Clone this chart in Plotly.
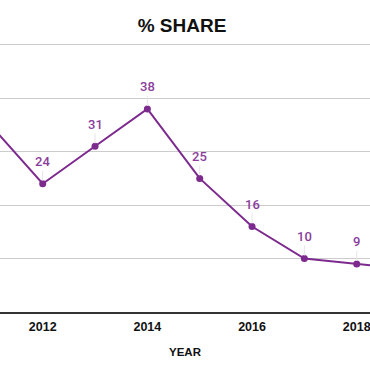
import plotly.graph_objects as go

years = [2011, 2012, 2013, 2014, 2015, 2016, 2017, 2018, 2019]
share = [35, 24, 31, 38, 25, 16, 10, 9, 8]
tick_years = [2012, 2014, 2016, 2018]
tick_labels = ["2012", "2014", "2016", "2018"]

LINE = "#7D2A8E"
TEXT = "#8A3D9C"

x_range = [2011.184, 2018.254]

fig = go.Figure()
fig.add_trace(go.Scatter(
    x=years, y=share, mode="lines+markers",
    line=dict(color=LINE, width=2),
    marker=dict(color=LINE, size=7),
    hoverinfo="skip",
))

for xv, yv in zip(years, share):
    if x_range[0] <= xv <= x_range[1]:
        fig.add_annotation(
            x=xv, y=yv, text=str(yv), showarrow=True,
            arrowhead=0, arrowwidth=1, arrowcolor="#e6e6e6",
            ax=0, ay=-22, standoff=3,
            font=dict(family="Roboto", size=13, color=TEXT, weight=500),
        )

fig.update_layout(
    width=370, height=371,
    margin=dict(l=0, r=0, t=40, b=59),
    paper_bgcolor="white", plot_bgcolor="white",
    showlegend=False,
    title=dict(text="<b>% SHARE</b>", x=0.492, xanchor="center",
               y=1 - 25 / 371, yanchor="middle", yref="container",
               font=dict(family="Liberation Sans, Arial", size=19, color="#111")),
    xaxis=dict(range=x_range, tickmode="array", tickvals=tick_years,
               ticktext=tick_labels, showgrid=False, zeroline=False,
               showline=True, linecolor="#333", linewidth=1.5, ticks="",
               ticklabelstandoff=2, ticklabeloverflow="allow",
               tickfont=dict(family="Liberation Sans, Arial", size=12.5, color="#111", weight="bold"),
               title=dict(text="<b>YEAR</b>", standoff=15,
                          font=dict(family="Liberation Sans, Arial", size=11.5, color="#111"))),
    yaxis=dict(range=[0, 50.89], tickmode="array", tickvals=[0, 10, 20, 30, 40, 50],
               showgrid=True, gridcolor="#cccccc",
               gridwidth=1, showticklabels=False, zeroline=False, showline=False),
)

fig.write_html(
    "out.html",
    config={"displayModeBar": False},
    post_script="document.body.style.margin='0';document.body.style.overflow='hidden';",
)
